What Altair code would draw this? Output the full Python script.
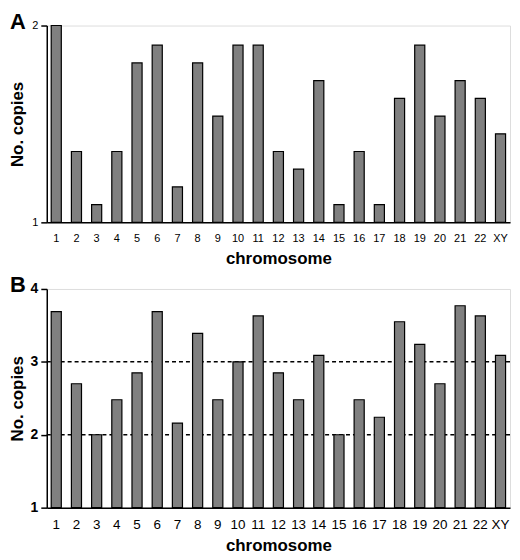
import altair as alt
import pandas as pd

chromosomes = [str(i) for i in range(1, 23)] + ["XY"]

# panel A: copies, scale 1-2
copies_a = [2.0, 1.36, 1.09, 1.36, 1.81, 1.90, 1.18, 1.81, 1.54, 1.90, 1.90, 1.36,
            1.27, 1.72, 1.09, 1.36, 1.09, 1.63, 1.90, 1.54, 1.72, 1.63, 1.45]
# panel B: copies, scale 1-4
copies_b = [3.69, 2.70, 2.0, 2.48, 2.85, 3.69, 2.16, 3.39, 2.48, 3.0, 3.63, 2.85,
            2.48, 3.09, 2.0, 2.48, 2.24, 3.55, 3.24, 2.70, 3.77, 3.63, 3.09]
ref_lines_b = [2, 3]

FONT = "Liberation Sans"
LEFT = -37  # room left of each plot for letter + axis title


def make_panel(values, letter, domain, ticks, w, h, small, ref_lines=None):
    df = pd.DataFrame({"chromosome": chromosomes, "copies": values})
    lab_size = 11 if small else 13.5
    ylab_size = 11 if small else 14
    ylab_weight = "normal" if small else "bold"

    x = alt.X("chromosome:N", sort=chromosomes, title="chromosome",
              scale=alt.Scale(paddingInner=0.5, paddingOuter=0.22),
              axis=alt.Axis(labelAngle=0, ticks=False, domainColor="black",
                            domainWidth=1.5, labelFontSize=lab_size,
                            labelColor="black", labelPadding=10,
                            titleFontSize=17, titleFontWeight="bold",
                            titlePadding=7, titleColor="black"))
    y = alt.Y("copies:Q", title="No. copies",
              scale=alt.Scale(domain=domain, zero=False, nice=False),
              axis=alt.Axis(values=ticks, format="d", grid=False, tickSize=6,
                            tickWidth=1.5, tickColor="black",
                            domainColor="black", domainWidth=1.5,
                            labelFontSize=ylab_size, labelFlush=False,
                            labelFontWeight=ylab_weight, labelColor="black",
                            labelPadding=3, titleFontSize=17,
                            titleFontWeight="bold", titleColor="black",
                            titleAngle=-90, titleBaseline="bottom",
                            titleAlign="center", titleX=LEFT + 17,
                            titleY=h / 2))

    bars = alt.Chart(df).mark_bar(color="#808080", stroke="black",
                                  strokeWidth=1.2).encode(
        x=x, y=y, y2=alt.datum(domain[0])
    )

    label = alt.Chart(pd.DataFrame({"t": [letter]})).mark_text(
        align="left", baseline="top", fontSize=22, fontWeight="bold",
        font=FONT, color="black"
    ).encode(text="t:N", x=alt.value(LEFT), y=alt.value(-14))

    layers = []
    if ref_lines is not None:
        rules = alt.Chart(pd.DataFrame({"v": ref_lines})).mark_rule(
            color="black", strokeDash=[4, 3], strokeWidth=1.5
        ).encode(y=alt.Y("v:Q", scale=alt.Scale(domain=domain, zero=False, nice=False)))
        layers.append(rules)
    layers += [bars, label]
    return alt.layer(*layers).properties(width=w, height=h)


panel_a = make_panel(copies_a, "A", [1, 2], [1, 2], 466, 198, True)
panel_b = make_panel(copies_b, "B", [1, 4], [1, 2, 3, 4], 466, 220, False,
                     ref_lines=ref_lines_b)

chart = alt.vconcat(panel_a, panel_b, spacing=6).properties(
    padding=0
).configure_view(
    stroke="#a0a0a0", strokeWidth=1
).configure(
    font=FONT, background="white"
)

chart.save("out.html", embed_options={"renderer": "svg", "actions": False})
